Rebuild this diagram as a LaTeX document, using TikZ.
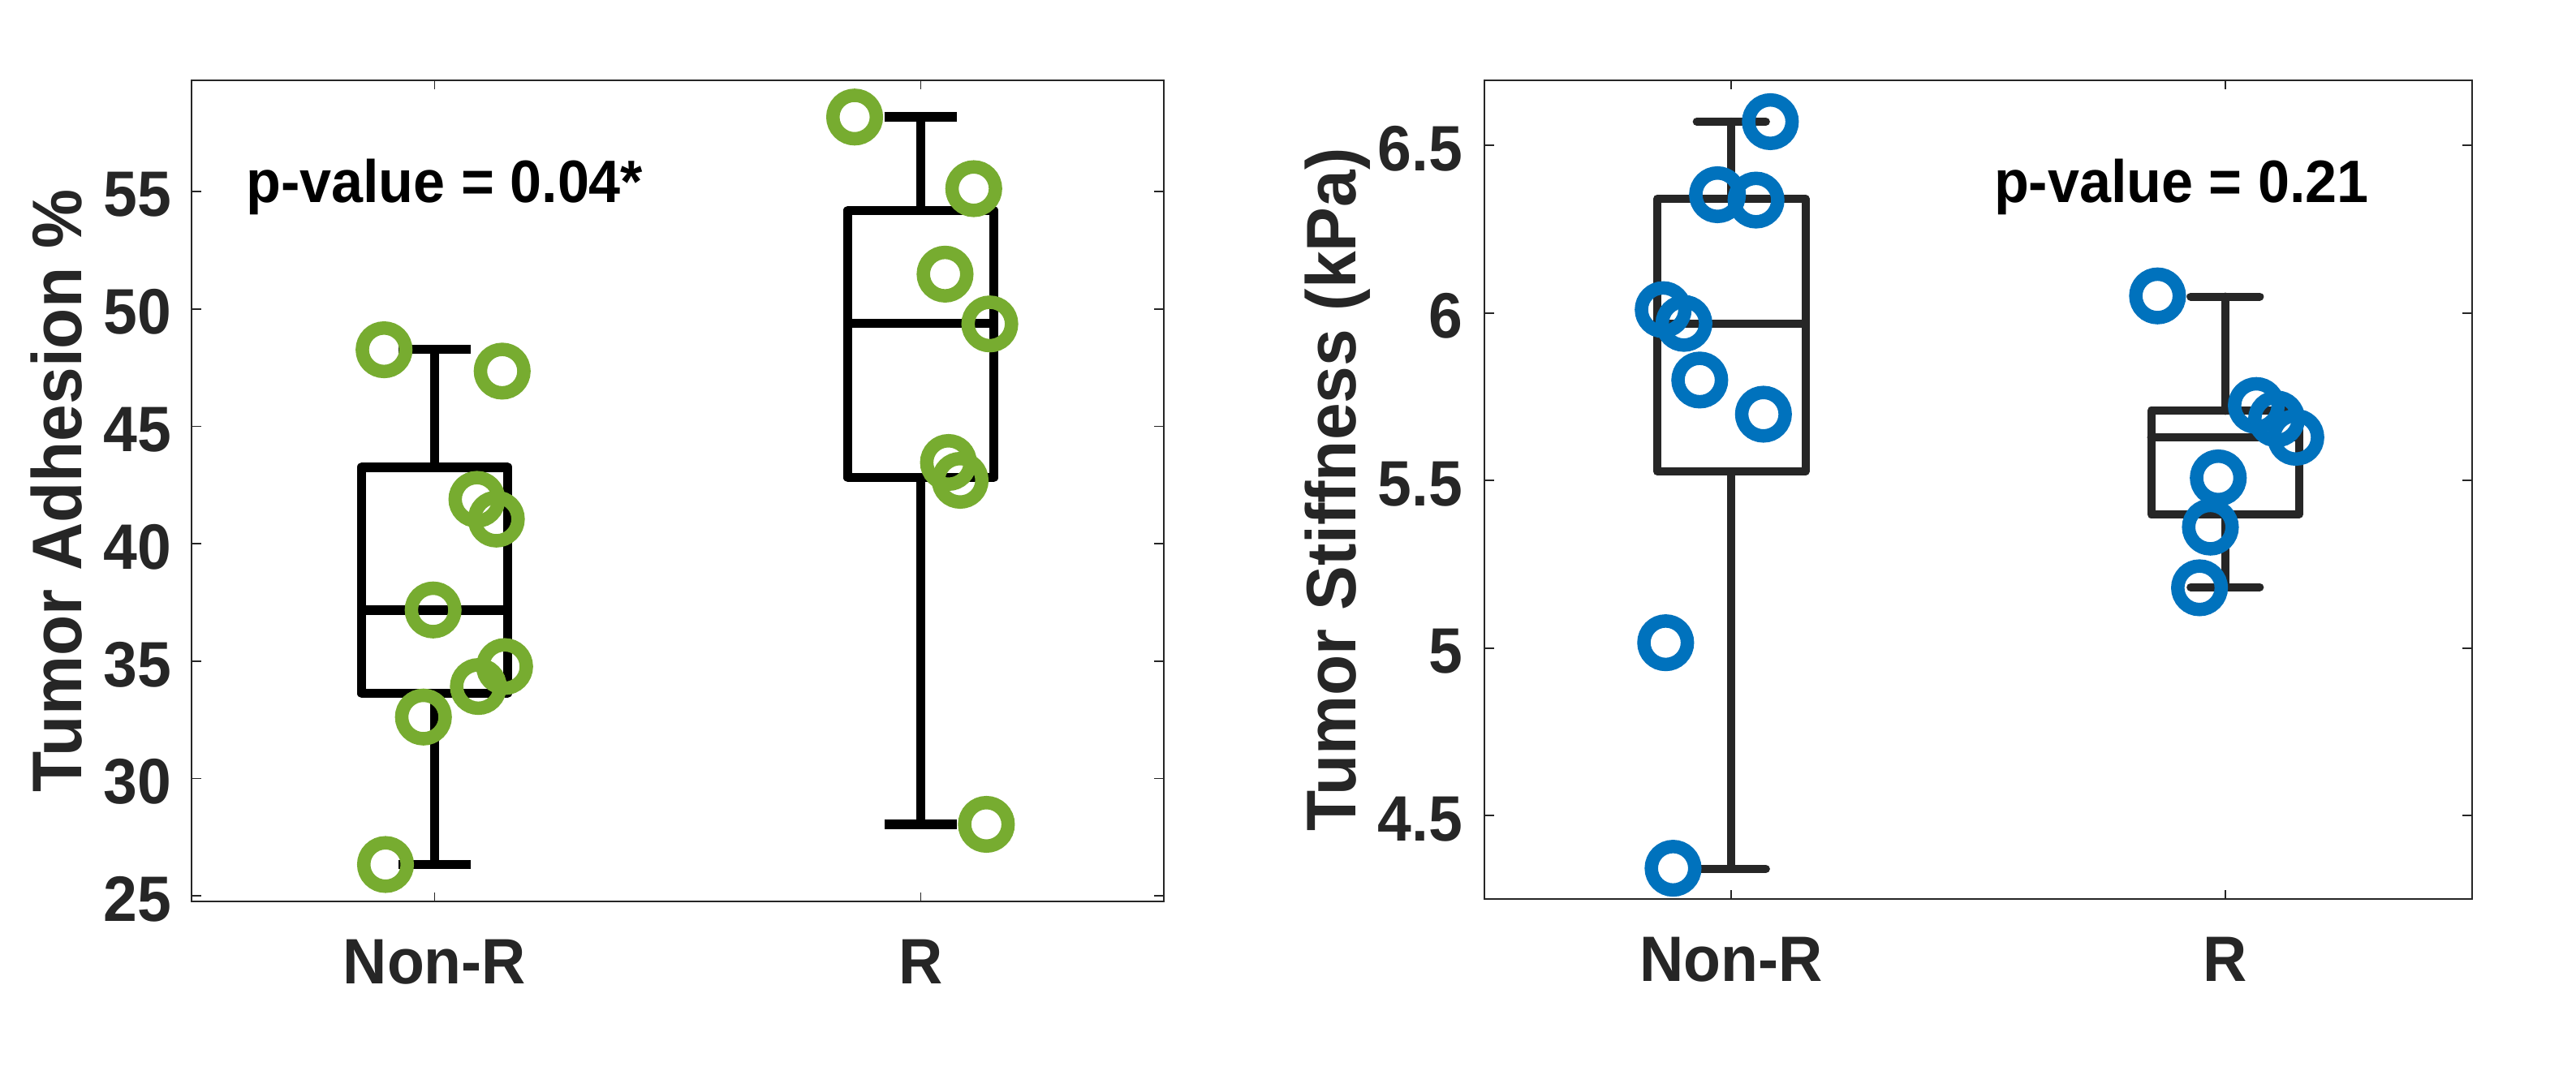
\documentclass[tikz,border=0pt]{standalone}
\usepackage{fontspec}
\setmainfont{Liberation Sans}
\newfontfamily\plotfont{Liberation Sans}[FakeStretch=0.95]
\usepackage{tikz}
\usetikzlibrary{positioning}
\definecolor{axisgray}{HTML}{262626}
\definecolor{ringgreen}{HTML}{77AC30}
\definecolor{ringblue}{HTML}{0072BD}
\tikzset{frame line/.style={draw=axisgray,line width=0.5pt},
  box line/.style={draw=black,line width=0.115cm,line join=round},
  box line gray/.style={draw=axisgray,line width=0.1cm,line join=round,line cap=round},
  data ring/.style={line width=0.165cm},
  tick label/.style={text=axisgray,font=\plotfont\bfseries\fontsize{22.5}{26}\selectfont,inner sep=0pt},
  axis label/.style={text=axisgray,font=\plotfont\bfseries\fontsize{24.6}{28}\selectfont,inner sep=0pt,rotate=90,anchor=base},
  pval label/.style={text=black,font=\plotfont\bfseries\fontsize{21}{24}\selectfont,inner sep=0pt,anchor=base west}}

\begin{document}
\begin{tikzpicture}
            \useasboundingbox (0,0) rectangle (31.74,13.2);
            \fill[white] (0,0) rectangle (31.74,13.2);

            % tumor adhesion
            \begin{scope}[x=5.99cm,y=0.28943cm,shift={(-0.635cm,-5.0788cm)}]
            \draw[frame line] (0.5,24.77) rectangle (2.5,59.73);
            \foreach \v in {25,30,...,55} {
                \draw[frame line] (0.5,\v) -- ++(0.12cm,0);
                \draw[frame line] (2.5,\v) -- ++(-0.12cm,0);
                \node[tick label,anchor=east] (adh\v) at ([xshift=-0.24cm,yshift=-0.04cm]0.5,\v) {\v};
            }
            \foreach \g in {1,2} {
                \draw[frame line] (\g,24.77) -- ++(0,0.11cm);
                \draw[frame line] (\g,59.73) -- ++(0,-0.11cm);
            }

            \draw[box line] (0.85,33.63) rectangle (1.15,43.26);
            \draw[box line] (0.85,37.18) -- (1.15,37.18);
            \draw[box line] (1,43.26) -- (1,48.28) (0.925,48.28) -- (1.075,48.28);
            \draw[box line] (1,33.63) -- (1,26.34) (0.925,26.34) -- (1.075,26.34);

            \draw[box line] (1.85,42.82) rectangle (2.15,54.19);
            \draw[box line] (1.85,49.39) -- (2.15,49.39);
            \draw[box line] (2,54.19) -- (2,58.17) (1.925,58.17) -- (2.075,58.17);
            \draw[box line] (2,42.82) -- (2,28.05) (1.925,28.05) -- (2.075,28.05);

            \foreach \px/\py in {0.896/48.26,1.139/47.35,1.087/41.89,1.127/41.05,0.997/37.18,
                1.144/34.77,1.090/33.92,0.977/32.62,0.899/26.34,
                1.864/58.17,2.109/55.12,2.050/51.48,2.142/49.36,2.057/43.46,2.081/42.70,2.135/28.05}
                \draw[data ring,ringgreen] (\px,\py) circle[radius=0.268cm];

            \node[tick label,anchor=base] (adhnonr) at ([yshift=-1.02cm]1,24.77) {Non-R};
            \node[tick label,anchor=base] (adhr) at ([yshift=-1.02cm]2,24.77) {R};
            \node[axis label] (adhlabel) at ([xshift=-1.35cm]0.5,42.25) {Tumor Adhesion \%};
            \node[pval label] (adhp) at (0.611,54.55) {p-value = 0.04*};
            \end{scope}

            % tumor stiffness
            \begin{scope}[x=6.085cm,y=4.13cm,shift={(15.2475cm,-15.438cm)}]
            \draw[frame line] (0.5,4.2513) rectangle (2.5,6.694);
            \foreach \v [count=\i] in {4.5,5,5.5,6,6.5} {
                \draw[frame line] (0.5,\v) -- ++(0.12cm,0);
                \draw[frame line] (2.5,\v) -- ++(-0.12cm,0);
                \node[tick label,anchor=east] (stf\i) at ([xshift=-0.26cm,yshift=-0.04cm]0.5,\v) {\v};
            }
            \foreach \g in {1,2} {
                \draw[frame line] (\g,4.2513) -- ++(0,0.11cm);
                \draw[frame line] (\g,6.694) -- ++(0,-0.11cm);
            }

            \draw[box line gray] (0.85,5.527) rectangle (1.15,6.341);
            \draw[box line gray] (0.85,5.967) -- (1.15,5.967);
            \draw[box line gray] (1,6.341) -- (1,6.571) (0.93,6.571) -- (1.07,6.571);
            \draw[box line gray] (1,5.527) -- (1,4.341) (0.93,4.341) -- (1.07,4.341);

            \draw[box line gray] (1.85,5.400) rectangle (2.15,5.708);
            \draw[box line gray] (1.85,5.629) -- (2.15,5.629);
            \draw[box line gray] (2,5.708) -- (2,6.049) (1.93,6.049) -- (2.07,6.049);
            \draw[box line gray] (2,5.400) -- (2,5.182) (1.93,5.182) -- (2.07,5.182);

            \foreach \px/\py in {1.079/6.571,0.972/6.353,1.050/6.337,0.862/6.010,0.904/5.969,
                0.936/5.800,1.065/5.698,0.867/5.016,0.882/4.343,
                1.863/6.051,2.063/5.724,2.104/5.684,2.143/5.629,1.986/5.508,1.970/5.361,1.948/5.180}
                \draw[data ring,ringblue] (\px,\py) circle[radius=0.268cm];

            \node[tick label,anchor=base] (stfnonr) at ([yshift=-1.02cm]1,4.2513) {Non-R};
            \node[tick label,anchor=base] (stfr) at ([yshift=-1.02cm]2,4.2513) {R};
            \node[axis label] (stflabel) at ([xshift=-1.59cm]0.5,5.4727) {Tumor Stiffness (kPa)};
            \node[pval label] (stfp) at (1.531,6.331) {p-value = 0.21};
            \end{scope}
        \end{tikzpicture}
\end{document}
